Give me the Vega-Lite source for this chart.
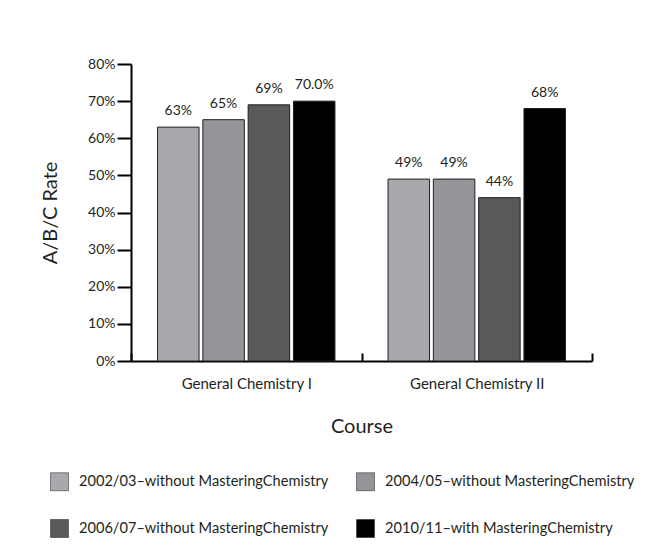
{
  "$schema": "https://vega.github.io/schema/vega-lite/v6.json",
  "width": 461,
  "height": 297,
  "autosize": {"type": "none"},
  "padding": {"left": 131, "top": 64, "right": 66, "bottom": 185},
  "background": "white",
  "config": {
    "view": {"stroke": null},
    "font": "Lato",
    "axis": {"labelFont": "Lato", "titleFont": "Lato", "labelColor": "#231f20", "titleColor": "#231f20", "titleFontWeight": "normal", "grid": false, "domainColor": "#000000", "tickColor": "#000000", "domainWidth": 2, "tickWidth": 2}
  },
  "data": {
    "values": [
      {"course": "General Chemistry I", "year": "2002/03–without MasteringChemistry", "rate": 63, "label": "63%"},
      {"course": "General Chemistry I", "year": "2004/05–without MasteringChemistry", "rate": 65, "label": "65%"},
      {"course": "General Chemistry I", "year": "2006/07–without MasteringChemistry", "rate": 69, "label": "69%"},
      {"course": "General Chemistry I", "year": "2010/11–with MasteringChemistry", "rate": 70, "label": "70.0%"},
      {"course": "General Chemistry II", "year": "2002/03–without MasteringChemistry", "rate": 49, "label": "49%"},
      {"course": "General Chemistry II", "year": "2004/05–without MasteringChemistry", "rate": 49, "label": "49%"},
      {"course": "General Chemistry II", "year": "2006/07–without MasteringChemistry", "rate": 44, "label": "44%"},
      {"course": "General Chemistry II", "year": "2010/11–with MasteringChemistry", "rate": 68, "label": "68%"}
    ]
  },
  "encoding": {
    "x": {
      "field": "course", "type": "nominal", "title": "Course",
      "scale": {"paddingInner": 0, "paddingOuter": 0},
      "axis": {"labelAngle": 0, "labelFontSize": 15, "titleFontSize": 20, "tickBand": "extent", "tickSize": -8, "labelPadding": 23, "titleY": 65, "titleBaseline": "middle"}
    },
    "xOffset": {"field": "year", "type": "nominal", "scale": {"paddingInner": 0.084, "paddingOuter": 0.586}},
    "y": {
      "field": "rate", "type": "quantitative", "title": "A/B/C Rate",
      "scale": {"domain": [0, 80]},
      "axis": {"values": [0, 10, 20, 30, 40, 50, 60, 70, 80], "labelExpr": "datum.value + '%'", "labelFontSize": 14, "tickSize": 14, "labelPadding": 2, "titleFontSize": 20, "titleX": -81, "titleBaseline": "middle"}
    }
  },
  "layer": [
    {
      "mark": {"type": "bar", "stroke": "#231f20", "strokeWidth": 1},
      "encoding": {
        "color": {
          "field": "year", "type": "nominal", "title": null,
          "scale": {"range": ["#a7a9ac", "#939598", "#58595b", "#000000"]},
          "legend": {"orient": "none", "direction": "horizontal", "legendX": -81, "legendY": 408, "columns": 2, "symbolType": "square", "symbolSize": 324, "symbolStrokeColor": "#231f20", "symbolStrokeWidth": 0.5, "labelFontSize": 14.6, "labelFont": "Lato", "labelColor": "#231f20", "labelOffset": 10, "columnPadding": 26, "rowPadding": 26, "labelLimit": 400}
        }
      }
    },
    {
      "mark": {"type": "text", "baseline": "bottom", "dy": -9, "fontSize": 14, "color": "#231f20"},
      "encoding": {"text": {"field": "label"}}
    }
  ]
}
